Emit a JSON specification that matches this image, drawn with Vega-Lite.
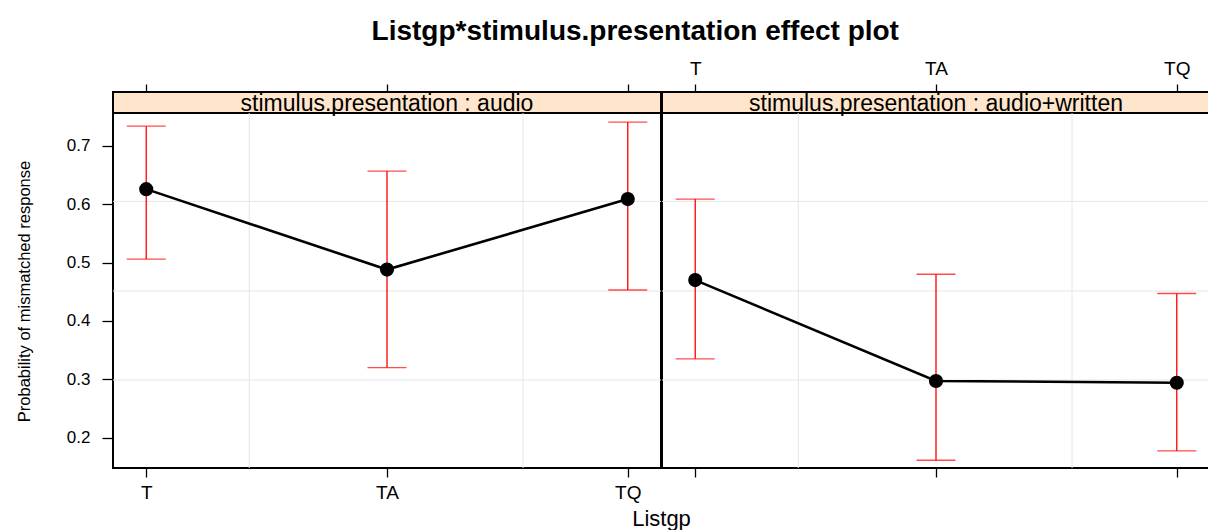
{
  "$schema": "https://vega.github.io/schema/vega-lite/v6.json",
  "background": "white",
  "padding": {"left": 15, "top": 18, "right": 0, "bottom": 0},
  "title": {"text": "Listgp*stimulus.presentation effect plot", "fontSize": 28, "font": "Liberation Sans", "fontWeight": "bold", "color": "#000", "anchor": "middle", "offset": 12, "dx": 22},
  "datasets": {
    "effects": [
      {"panel": "audio", "Listgp": "T", "fit": 0.626, "lower": 0.506, "upper": 0.734},
      {"panel": "audio", "Listgp": "TA", "fit": 0.488, "lower": 0.320, "upper": 0.657},
      {"panel": "audio", "Listgp": "TQ", "fit": 0.609, "lower": 0.453, "upper": 0.741},
      {"panel": "audio+written", "Listgp": "T", "fit": 0.470, "lower": 0.335, "upper": 0.609},
      {"panel": "audio+written", "Listgp": "TA", "fit": 0.297, "lower": 0.161, "upper": 0.480},
      {"panel": "audio+written", "Listgp": "TQ", "fit": 0.294, "lower": 0.177, "upper": 0.447}
    ],
    "hgrid": [{"g": 0.2986}, {"g": 0.4513}, {"g": 0.605}],
    "vgrid": [{"g": 0.428}, {"g": 1.565}]
  },
  "columns": 2,
  "bounds": "flush",
  "spacing": {"row": 0, "column": 1},
  "concat": [
    {
      "width": 548, "height": 21,
      "view": {"fill": "#ffe5cc", "stroke": "#000", "strokeWidth": 2},
      "data": {"values": [{"label": "stimulus.presentation : audio"}]},
      "mark": {"type": "text", "fontSize": 23, "font": "Liberation Sans", "color": "#000", "dy": 1},
      "encoding": {
        "text": {"field": "label"},
        "x": {"datum": "TA", "type": "nominal", "scale": {"type": "point", "domain": ["T", "TA", "TQ"], "padding": 0.138},
              "axis": {"orient": "top", "labels": false, "title": null, "domain": false, "grid": false, "tickSize": 8, "tickColor": "#000", "tickWidth": 1.3}}
      }
    },
    {
      "width": 548, "height": 21,
      "view": {"fill": "#ffe5cc", "stroke": "#000", "strokeWidth": 2},
      "data": {"values": [{"label": "stimulus.presentation : audio+written"}]},
      "mark": {"type": "text", "fontSize": 23, "font": "Liberation Sans", "color": "#000", "dy": 1},
      "encoding": {
        "text": {"field": "label"},
        "x": {"datum": "TA", "type": "nominal", "scale": {"type": "point", "domain": ["T", "TA", "TQ"], "padding": 0.138},
              "axis": {"orient": "top", "labels": true, "labelAngle": 0, "labelFontSize": 19, "labelFont": "Liberation Sans", "labelColor": "#000", "labelPadding": 6, "title": null, "domain": false, "grid": false, "tickSize": 8, "tickColor": "#000", "tickWidth": 1.3}}
      }
    },
    {
      "width": 548, "height": 355,
      "view": {"stroke": "#000", "strokeWidth": 2},
      "resolve": {"scale": {"x": "independent"}},
      "layer": [
        {
          "data": {"name": "hgrid"},
          "mark": {"type": "rule", "color": "#e6e6e6", "strokeWidth": 1},
          "encoding": {"y": {"field": "g", "type": "quantitative", "scale": {"domain": [0.1477, 0.7566], "nice": false, "zero": false},
            "axis": {"values": [0.2, 0.3, 0.4, 0.5, 0.6, 0.7], "format": ".1f", "grid": false, "domain": false, "tickSize": 11, "tickColor": "#000", "tickWidth": 1.3, "labelPadding": 12, "labelFontSize": 17, "labelFont": "Liberation Sans", "labelColor": "#000",
              "title": "Probability of mismatched response", "titleFontSize": 16.5, "titleFont": "Liberation Sans", "titleFontWeight": "normal", "titleColor": "#000", "titleX": -89, "titleY": 178, "titleAngle": 270, "titleAlign": "center", "titleBaseline": "middle"}}}
        },
        {
          "data": {"name": "vgrid"},
          "mark": {"type": "rule", "color": "#e6e6e6", "strokeWidth": 1},
          "encoding": {"x": {"field": "g", "type": "quantitative", "scale": {"domain": [-0.138, 2.138], "nice": false, "zero": false}, "axis": null}}
        },
        {
          "data": {"name": "effects"},
          "transform": [{"filter": "datum.panel === 'audio'"}],
          "encoding": {
            "x": {"field": "Listgp", "type": "nominal", "scale": {"type": "point", "domain": ["T", "TA", "TQ"], "padding": 0.138},
                  "axis": {"orient": "bottom", "labelAngle": 0, "labelFontSize": 19, "labelFont": "Liberation Sans", "labelColor": "#000", "labelPadding": 6, "domain": false, "grid": false, "tickSize": 9, "tickColor": "#000", "tickWidth": 1.3,
                    "title": "Listgp", "titleFontSize": 22, "titleFont": "Liberation Sans", "titleFontWeight": "normal", "titleColor": "#000", "titleX": 548, "titleY": 57, "titleAlign": "center", "titleBaseline": "alphabetic"}}
          },
          "layer": [
            {"mark": {"type": "rule", "color": "#ff0000", "strokeWidth": 1.3}, "encoding": {"y": {"field": "lower", "type": "quantitative"}, "y2": {"field": "upper"}}},
            {"mark": {"type": "tick", "orient": "horizontal", "color": "#ff0000", "size": 39, "thickness": 1.3}, "encoding": {"y": {"field": "lower", "type": "quantitative"}}},
            {"mark": {"type": "tick", "orient": "horizontal", "color": "#ff0000", "size": 39, "thickness": 1.3}, "encoding": {"y": {"field": "upper", "type": "quantitative"}}},
            {"mark": {"type": "line", "color": "#000", "strokeWidth": 2.6}, "encoding": {"y": {"field": "fit", "type": "quantitative"}}},
            {"mark": {"type": "point", "filled": true, "color": "#000", "opacity": 1, "size": 200}, "encoding": {"y": {"field": "fit", "type": "quantitative"}}}
          ]
        }
      ]
    },
    {
      "width": 548, "height": 355,
      "view": {"stroke": "#000", "strokeWidth": 2},
      "resolve": {"scale": {"x": "independent"}},
      "layer": [
        {
          "data": {"name": "hgrid"},
          "mark": {"type": "rule", "color": "#e6e6e6", "strokeWidth": 1},
          "encoding": {"y": {"field": "g", "type": "quantitative", "scale": {"domain": [0.1477, 0.7566], "nice": false, "zero": false}, "axis": null}}
        },
        {
          "data": {"name": "vgrid"},
          "mark": {"type": "rule", "color": "#e6e6e6", "strokeWidth": 1},
          "encoding": {"x": {"field": "g", "type": "quantitative", "scale": {"domain": [-0.138, 2.138], "nice": false, "zero": false}, "axis": null}}
        },
        {
          "data": {"name": "effects"},
          "transform": [{"filter": "datum.panel === 'audio+written'"}],
          "encoding": {
            "x": {"field": "Listgp", "type": "nominal", "scale": {"type": "point", "domain": ["T", "TA", "TQ"], "padding": 0.138},
                  "axis": {"orient": "bottom", "labels": false, "domain": false, "grid": false, "tickSize": 9, "tickColor": "#000", "tickWidth": 1.3, "title": null}}
          },
          "layer": [
            {"mark": {"type": "rule", "color": "#ff0000", "strokeWidth": 1.3}, "encoding": {"y": {"field": "lower", "type": "quantitative"}, "y2": {"field": "upper"}}},
            {"mark": {"type": "tick", "orient": "horizontal", "color": "#ff0000", "size": 39, "thickness": 1.3}, "encoding": {"y": {"field": "lower", "type": "quantitative"}}},
            {"mark": {"type": "tick", "orient": "horizontal", "color": "#ff0000", "size": 39, "thickness": 1.3}, "encoding": {"y": {"field": "upper", "type": "quantitative"}}},
            {"mark": {"type": "line", "color": "#000", "strokeWidth": 2.6}, "encoding": {"y": {"field": "fit", "type": "quantitative"}}},
            {"mark": {"type": "point", "filled": true, "color": "#000", "opacity": 1, "size": 200}, "encoding": {"y": {"field": "fit", "type": "quantitative"}}}
          ]
        }
      ]
    }
  ],
  "config": {
    "font": "Liberation Sans",
    "axis": {"labelFont": "Liberation Sans", "titleFont": "Liberation Sans"}
  }
}
